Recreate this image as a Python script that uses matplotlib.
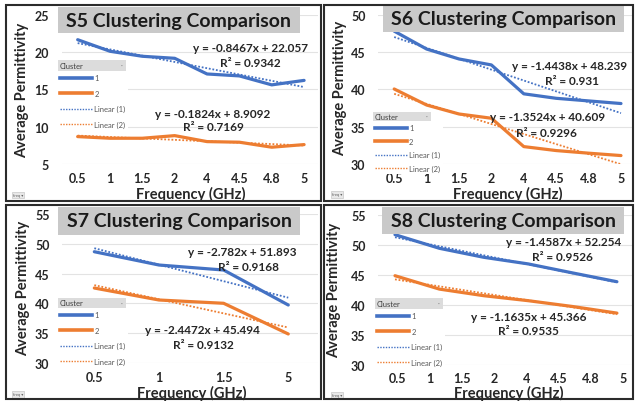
import numpy as np
import matplotlib
matplotlib.use("Agg")
import matplotlib.pyplot as plt
from matplotlib.patches import Rectangle
from matplotlib.lines import Line2D

plt.rcParams['font.family'] = ['Lato', 'DejaVu Sans']

# ---------------- data ----------------
freq_labels_8 = ['0.5', '1', '1.5', '2', '4', '4.5', '4.8', '5']
freq_labels_4 = ['0.5', '1', '1.5', '5']

s5_cluster1 = [21.65, 20.10, 19.43, 19.16, 17.06, 16.80, 15.60, 16.20]
s5_cluster2 = [8.67, 8.45, 8.45, 8.80, 8.00, 7.92, 7.25, 7.60]
s5_slopes = [-0.8467, -0.1824]
s5_intercepts = [22.057, 8.9092]
s5_r2 = [0.9342, 0.7169]

s6_cluster1 = [47.80, 45.40, 44.07, 43.27, 39.40, 38.80, 38.45, 38.10]
s6_cluster2 = [40.05, 37.90, 36.70, 36.13, 32.33, 31.80, 31.45, 31.13]
s6_slopes = [-1.4438, -1.3524]
s6_intercepts = [48.239, 40.609]
s6_r2 = [0.931, 0.9296]

s7_cluster1 = [48.67, 46.44, 45.60, 39.73]
s7_cluster2 = [42.58, 40.57, 40.02, 34.87]
s7_slopes = [-2.782, -2.4472]
s7_intercepts = [51.893, 45.494]
s7_r2 = [0.9168, 0.9132]

s8_cluster1 = [51.67, 49.40, 47.90, 46.80, 45.30, 43.83]
s8_cluster2 = [44.83, 42.60, 41.50, 40.67, 39.70, 38.60]
s8_slopes = [-1.4587, -1.1635]
s8_intercepts = [52.254, 45.366]
s8_r2 = [0.9526, 0.9535]

series_names = ['1', '2']
trend_names = ['Linear (1)', 'Linear (2)']

BLUE = '#4472C4'
ORANGE = '#ED7D31'
TXT = '#262626'

W, H = 636, 402
fig = plt.figure(figsize=(W / 100, H / 100), dpi=100)


def fx(x):
    return x / W


def fy(y):
    return 1 - y / H


def eq_text(s, i):
    return f"y = {s[0][i]}x + {s[1][i]}"


panels = [
    dict(title='S5 Clustering Comparison', labels=freq_labels_8,
         c=[s5_cluster1, s5_cluster2], eq=(s5_slopes, s5_intercepts), r2=s5_r2,
         ylim=(5, 25), yticks=[5, 10, 15, 20, 25],
         box=(61.5, 15.7, 318, 165), xlim=(0.5, 8.43), xticks=None,
         border=(6, 6, 320.5, 202), titlebox=(57.7, 8, 300, 34),
         header=(58, 61, 126, 72), lspace=16,
         eqpos=[(250, 48.3, 250, 63.3), (213, 114.3, 213, 127.7)],
         ylab=(21.7, 90), xlab=(191, 194.5), button=(18, 196)),
    dict(title='S6 Clustering Comparison', labels=freq_labels_8,
         c=[s6_cluster1, s6_cluster2], eq=(s6_slopes, s6_intercepts), r2=s6_r2,
         ylim=(30, 50), yticks=[30, 35, 40, 45, 50],
         box=(378, 15.7, 632, 165), xlim=(0.5, 8.34), xticks=None,
         border=(324, 6, 633, 202), titlebox=(382.7, 6, 624.3, 33.3),
         header=(372.7, 113, 431, 122), lspace=14,
         eqpos=[(570, 66.7, 572, 81.7), (547.7, 117.7, 546, 133.3)],
         ylab=(340, 88), xlab=(507.7, 194.5), button=(337, 195.5)),
    dict(title='S7 Clustering Comparison', labels=freq_labels_4,
         c=[s7_cluster1, s7_cluster2], eq=(s7_slopes, s7_intercepts), r2=s7_r2,
         ylim=(30, 55), yticks=[30, 35, 40, 45, 50, 55],
         box=(62, 215, 318, 364), xlim=(0.5, 4.46), xticks=None,
         border=(6, 206, 320.5, 400), titlebox=(58.3, 207.7, 300, 235.7),
         header=(58, 299, 126, 309), lspace=16,
         eqpos=[(242.7, 252.3, 248, 267.7), (202.7, 331, 203, 345.7)],
         ylab=(22.7, 288), xlab=(191.7, 393), button=(18, 395.5)),
    dict(title='S8 Clustering Comparison', labels=freq_labels_8,
         c=[s8_cluster1, s8_cluster2], eq=(s8_slopes, s8_intercepts), r2=s8_r2,
         ylim=(30, 55), yticks=[30, 35, 40, 45, 50, 55],
         box=(378, 215.7, 632, 365.7), xlim=(0.617, 6.34),
         xticks=np.linspace(1.06, 6.13, 8),
         border=(324, 206, 633, 400), titlebox=(382, 207.7, 624.3, 235),
         header=(375, 299, 443, 310), lspace=16,
         eqpos=[(563.3, 242.3, 562.7, 257.3), (528.3, 317.3, 528.3, 331.7)],
         ylab=(334, 290), xlab=(508.7, 393.5), button=(337, 396)),
]

for p in panels:
    l, t, r, b = p['box']
    ax = fig.add_axes([fx(l), fy(b), (r - l) / W, (b - t) / H])
    ax.set_facecolor('none')
    n = len(p['c'][0])
    x = np.arange(1, n + 1)
    cols = [BLUE, ORANGE]
    for k in range(2):
        y = np.array(p['c'][k])
        ax.plot(x, y, color=cols[k], lw=2.3, solid_capstyle='round',
                solid_joinstyle='round', zorder=3)
    for k in range(2):
        y = np.array(p['c'][k])
        sl, ic = np.polyfit(x, y, 1)
        ax.plot(x, sl * x + ic, color=cols[k], lw=1.3, ls=(0, (1, 1)), zorder=4)
    ax.set_xlim(*p['xlim'])
    ax.set_ylim(*p['ylim'])
    ax.set_yticks(p['yticks'])
    xt = p['xticks'] if p['xticks'] is not None else x
    ax.set_xticks(xt)
    ax.set_xticklabels(p['labels'])
    for s in ax.spines.values():
        s.set_visible(False)
    ax.tick_params(length=0, labelsize=9, labelcolor=TXT)
    ax.tick_params(axis='x', pad=5.5)
    ax.tick_params(axis='y', pad=9)
    for lab in ax.get_xticklabels() + ax.get_yticklabels():
        lab.set_fontweight('bold')
    ax.yaxis.grid(True, color='#e3e3e3', lw=0.8)
    ax.set_axisbelow(True)

    # axis titles
    fig.text(fx(p['ylab'][0]), fy(p['ylab'][1]), 'Average Permittivity',
             rotation=90, ha='center', va='center', fontsize=10.5,
             fontweight='bold', color=TXT)
    fig.text(fx(p['xlab'][0]), fy(p['xlab'][1]), 'Frequency (GHz)',
             ha='center', va='center', fontsize=10.5, fontweight='bold',
             color=TXT)

    # title box
    tl, tt, tr, tb = p['titlebox']
    fig.patches.append(Rectangle((fx(tl), fy(tb)), (tr - tl) / W, (tb - tt) / H,
                                 transform=fig.transFigure, facecolor='#c9c9c9',
                                 edgecolor='none', zorder=2))
    fig.text(fx((tl + tr) / 2), fy((tt + tb) / 2), p['title'], ha='center',
             va='center', fontsize=14, fontweight='bold', color='#1a1a1a',
             zorder=5)

    # equations
    for k in range(2):
        ex, ey, rx, ry = p['eqpos'][k]
        fig.text(fx(ex), fy(ey), eq_text(p['eq'], k), ha='center', va='center',
                 fontsize=8.5, fontweight='bold', color=TXT, zorder=6)
        fig.text(fx(rx), fy(ry), f"R\u00b2 = {p['r2'][k]}", ha='center',
                 va='center', fontsize=8.5, fontweight='bold', color=TXT,
                 zorder=6)

    # legend header
    hl, ht, hr, hb = p['header']
    fig.patches.append(Rectangle((fx(hl), fy(hb)), (hr - hl) / W, (hb - ht) / H,
                                 transform=fig.transFigure, facecolor='#dcdcdc',
                                 edgecolor='none', zorder=2))
    fig.text(fx(hl + 1.5), fy((ht + hb) / 2), 'Cluster', ha='left', va='center',
             fontsize=5.5, color='#404040', zorder=6)
    fig.text(fx(hr - 4), fy((ht + hb) / 2), '\u00b7', ha='center', va='center',
             fontsize=5, color='#808080', zorder=6)

    handles = [Line2D([], [], color=BLUE, lw=2.6),
               Line2D([], [], color=ORANGE, lw=2.6),
               Line2D([], [], color=BLUE, lw=1.0, ls=(0, (1, 1))),
               Line2D([], [], color=ORANGE, lw=1.0, ls=(0, (1, 1)))]
    sp = (p['lspace'] - 7.6) / 7.6
    leg = ax.legend(handles, series_names + trend_names, loc='upper left',
                    bbox_to_anchor=(fx(hl), fy(hb + 1)),
                    bbox_transform=fig.transFigure, frameon=True,
                    facecolor='white', edgecolor='none', framealpha=1,
                    fontsize=5.5, handlelength=4.2, handletextpad=0.25,
                    labelspacing=sp, borderpad=0.3, borderaxespad=0)
    for txt in leg.get_texts():
        txt.set_color('#595959')
    leg.set_zorder(5)

    # field button
    bx, by = p['button']
    fig.text(fx(bx), fy(by), 'freq \u25be', ha='center', va='center',
             fontsize=3, color='#606060',
             bbox=dict(boxstyle='square,pad=0.25', fc='#e8e8e8', ec='#bdbdbd',
                       lw=0.4), zorder=6)

    # panel border
    bl, bt, br, bb = p['border']
    fig.patches.append(Rectangle((fx(bl), fy(bb)), (br - bl) / W, (bb - bt) / H,
                                 transform=fig.transFigure, facecolor='none',
                                 edgecolor='#2b2b2b', lw=1.5, zorder=7))

fig.savefig('out.png', dpi=100)
